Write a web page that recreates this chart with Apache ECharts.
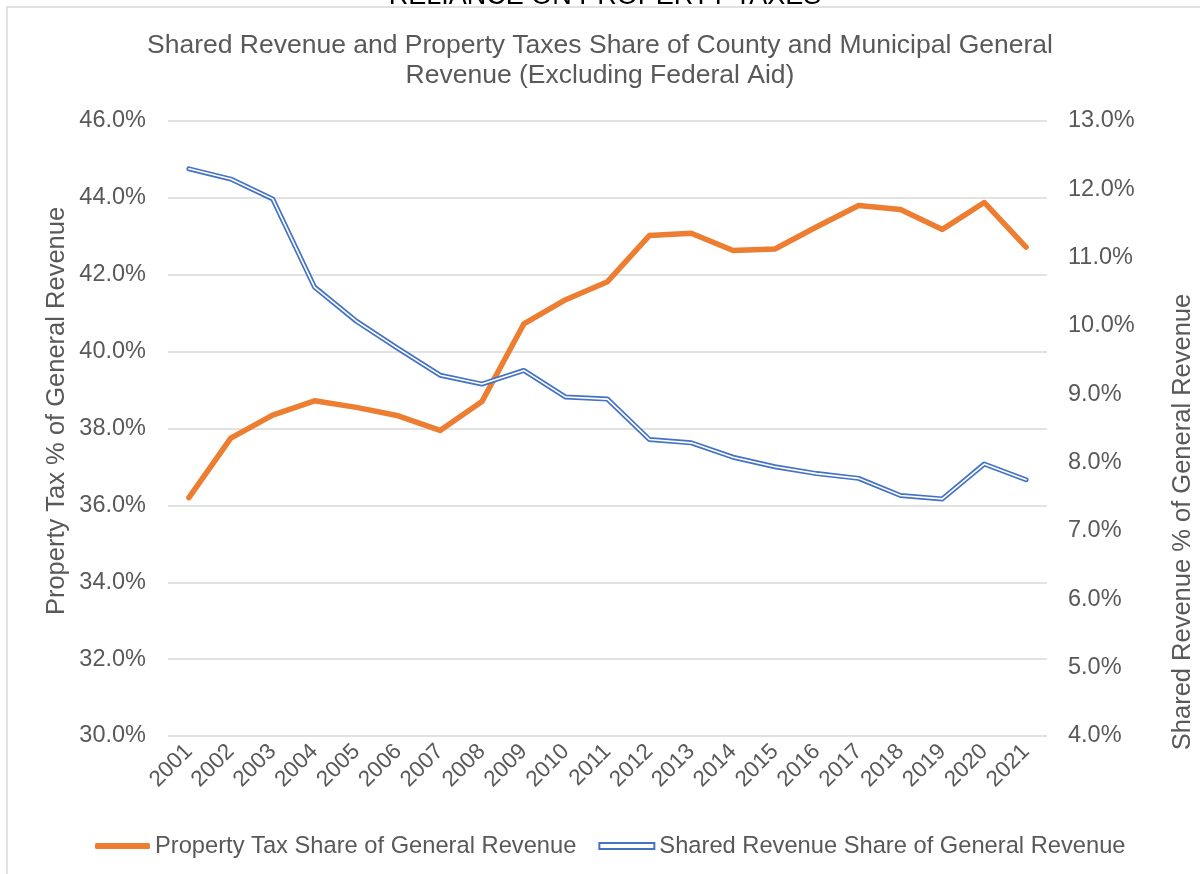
<!DOCTYPE html>
<html>
<head>
<meta charset="utf-8">
<script src="https://cdn.jsdelivr.net/npm/echarts@6/dist/echarts.min.js"></script>
<style>
  html, body { margin: 0; padding: 0; background: #fff; }
  #main { width: 1200px; height: 874px; }
</style>
</head>
<body>
<div id="main"></div>
<script>
var years = ['2001', '2002', '2003', '2004', '2005', '2006', '2007', '2008', '2009', '2010', '2011',
  '2012', '2013', '2014', '2015', '2016', '2017', '2018', '2019', '2020', '2021'];
var propertyTax = [36.2, 37.75, 38.35, 38.72, 38.55, 38.33, 37.95, 38.7, 40.72, 41.35, 41.82,
  43.02, 43.08, 42.63, 42.67, 43.25, 43.8, 43.7, 43.18, 43.88, 42.72];
var sharedRevenue = [12.3, 12.15, 11.86, 10.57, 10.07, 9.67, 9.28, 9.15, 9.35, 8.96, 8.93,
  8.34, 8.29, 8.08, 7.94, 7.84, 7.77, 7.52, 7.47, 7.98, 7.75];
var leftTicks = { min: 30, max: 46, step: 2 };
var rightTicks = { min: 4, max: 13, step: 1 };

var taxName = 'Property Tax Share of General Revenue';
var sharedName = 'Shared Revenue Share of General Revenue';
var grey = '#595959';
var orange = '#ED7D31';
var blue = '#4472C4';
var font = 'Liberation Sans, Arial, sans-serif';

function pct(v) { return v.toFixed(1) + '%'; }

var myChart = echarts.init(document.getElementById('main'));
myChart.setOption({
  animation: false,
  textStyle: { fontFamily: font },
  title: {
    text: 'Shared Revenue and Property Taxes Share of County and Municipal General\nRevenue (Excluding Federal Aid)',
    left: 'center',
    top: 26,
    textStyle: { fontSize: 26.5, fontWeight: 'normal', color: grey, lineHeight: 30 }
  },
  graphic: [
    {
      type: 'rect', silent: true,
      shape: { x: 7, y: 7, width: 1400, height: 1000 },
      style: { fill: 'none', stroke: '#D9D9D9', lineWidth: 1.5 }
    },
    {
      type: 'text', silent: true, x: 605, y: 10,
      style: { text: 'RELIANCE ON PROPERTY TAXES', fontSize: 27, fill: '#000',
        align: 'center', verticalAlign: 'bottom', fontFamily: font }
    },
    {
      type: 'text', silent: true, x: 57, y: 411, rotation: Math.PI / 2,
      style: { text: 'Property Tax % of General Revenue', fontSize: 25.5, fill: grey,
        align: 'center', verticalAlign: 'middle', fontFamily: font }
    },
    {
      type: 'text', silent: true, x: 1183, y: 522, rotation: Math.PI / 2,
      style: { text: 'Shared Revenue % of General Revenue', fontSize: 25.5, fill: grey,
        align: 'center', verticalAlign: 'middle', fontFamily: font }
    }
  ],
  legend: {
    left: 90,
    top: 829,
    itemWidth: 55,
    itemHeight: 6,
    itemGap: 22,
    textStyle: { fontSize: 23.7, color: grey },
    data: [
      { name: taxName, icon: 'roundRect', itemStyle: { color: orange } },
      { name: sharedName, icon: 'rect', itemStyle: { color: '#fff', borderColor: blue, borderWidth: 2 } }
    ]
  },
  grid: { left: 168, right: 153, top: 121, bottom: 138 },
  xAxis: {
    type: 'category',
    data: years,
    axisLine: { show: false },
    axisTick: { show: false },
    axisLabel: { interval: 0, rotate: 45, fontSize: 22.5, color: grey, margin: 12 }
  },
  yAxis: [
    {
      type: 'value',
      min: leftTicks.min, max: leftTicks.max, interval: leftTicks.step,
      axisLine: { show: false },
      axisTick: { show: false },
      splitLine: { lineStyle: { color: '#D9D9D9', width: 1.5 } },
      axisLabel: { fontSize: 23.5, color: grey, margin: 22, formatter: pct }
    },
    {
      type: 'value',
      min: rightTicks.min, max: rightTicks.max, interval: rightTicks.step,
      axisLine: { show: false },
      axisTick: { show: false },
      splitLine: { show: false },
      axisLabel: { fontSize: 23.5, color: grey, margin: 21, formatter: pct }
    }
  ],
  series: [
    {
      name: taxName,
      type: 'line',
      data: propertyTax,
      yAxisIndex: 0,
      showSymbol: false,
      lineStyle: { color: orange, width: 5.5, cap: 'round', join: 'round' },
      itemStyle: { color: orange }
    },
    {
      name: sharedName,
      type: 'line',
      data: sharedRevenue,
      yAxisIndex: 1,
      showSymbol: false,
      lineStyle: { color: blue, width: 5, cap: 'round', join: 'round' },
      itemStyle: { color: blue }
    },
    {
      name: 'sharedInner',
      type: 'line',
      data: sharedRevenue,
      yAxisIndex: 1,
      showSymbol: false,
      silent: true,
      z: 3,
      lineStyle: { color: '#fff', width: 1.6, cap: 'round', join: 'round' },
      itemStyle: { color: '#fff' }
    }
  ]
});
</script>
</body>
</html>
